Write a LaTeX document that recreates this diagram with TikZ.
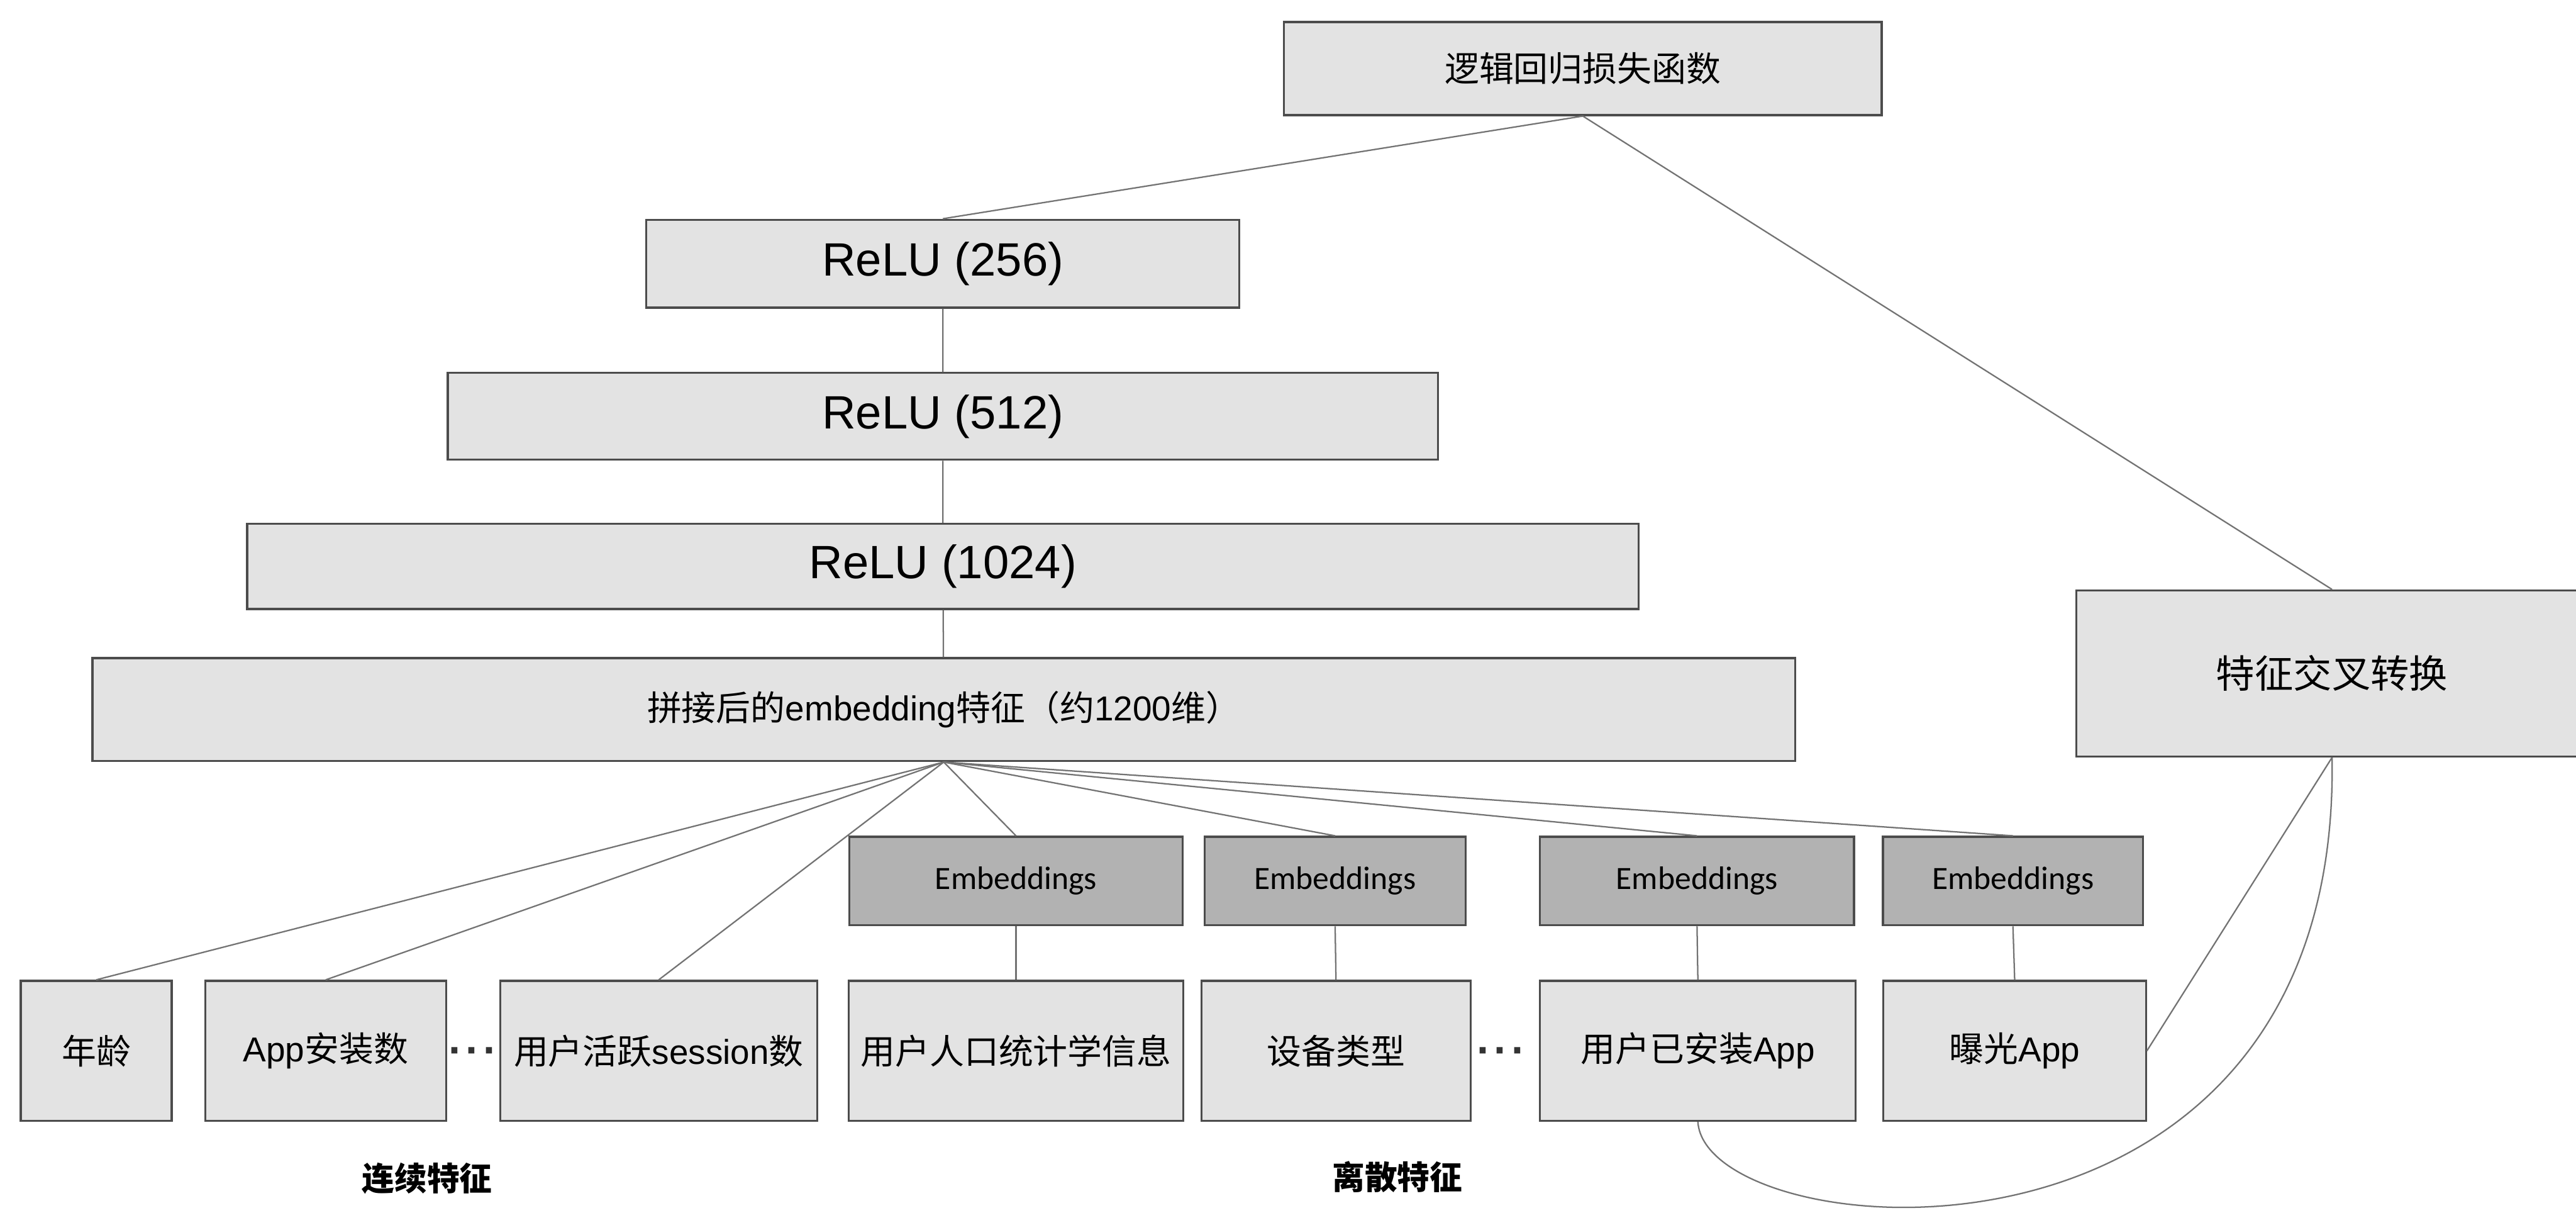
\documentclass[tikz,border=0pt]{standalone}
\usepackage{fontspec}
\setmainfont{Liberation Sans}
\newfontfamily\cjkfont{Noto Sans CJK SC}
\newfontfamily\embfont{Carlito}
\newcommand{\zh}[1]{{\cjkfont #1}}
\tikzset{
  netbox/.style={draw=black!70, fill=black!11, line width=1pt, inner sep=0pt,
    font=\fontsize{17}{20}\selectfont},
  relubox/.style={netbox, font=\fontsize{23}{27}\selectfont},
  embbox/.style={netbox, fill=black!30, minimum height=1.53cm,
    font=\embfont\fontsize{16}{19}\selectfont},
  featbox/.style={netbox, minimum height=2.42cm},
  wire/.style={draw=black!55, line width=0.7pt},
  gapdots/.style={font=\bfseries\fontsize{21}{24}\selectfont, text=black!80},
  grouplabel/.style={font=\cjkfont\bfseries\fontsize{16}{19}\selectfont}
}
\begin{document}
\begin{tikzpicture}
\useasboundingbox (0,0) rectangle (44.56,-20.97);
% tower
\node[netbox, minimum width=10.34cm, minimum height=1.61cm] (loss) at (27.38,-1.185) {\zh{逻辑回归损失函数}};
\node[relubox, minimum width=10.26cm, minimum height=1.52cm] (relu256) at (16.31,-4.56) {ReLU (256)};
\node[relubox, minimum width=17.13cm, minimum height=1.50cm] (relu512) at (16.31,-7.20) {ReLU (512)};
\node[relubox, minimum width=24.07cm, minimum height=1.47cm] (relu1024) at (16.31,-9.795) {ReLU (1024)};
\node[netbox, minimum width=29.45cm, minimum height=1.78cm] (concat) at (16.325,-12.27)
  {\zh{拼接后的}embedding\zh{特征（约}1200\zh{维）}};
\node[netbox, minimum width=8.84cm, minimum height=2.87cm, font=\fontsize{19}{23}\selectfont] (cross) at (40.34,-11.645) {\zh{特征交叉转换}};
% input features
\node[featbox, minimum width=2.61cm] (age) at (1.665,-18.17) {\zh{年龄}};
\node[featbox, minimum width=4.17cm] (appnum) at (5.635,-18.17) {App\zh{安装数}};
\node[featbox, minimum width=5.49cm] (session) at (11.395,-18.17) {\zh{用户活跃}session\zh{数}};
\node[featbox, minimum width=5.79cm] (demo) at (17.575,-18.17) {\zh{用户人口统计学信息}};
\node[featbox, minimum width=4.66cm] (device) at (23.11,-18.17) {\zh{设备类型}};
\node[featbox, minimum width=5.46cm] (installed) at (29.37,-18.17) {\zh{用户已安装}App};
\node[featbox, minimum width=4.54cm] (shown) at (34.85,-18.17) {\zh{曝光}App};
\node[gapdots] (dotsA) at (8.18,-18.26) {·\hspace{1.5pt}·\hspace{1.5pt}·};
\node[gapdots] (dotsB) at (25.97,-18.26) {·\hspace{1.5pt}·\hspace{1.5pt}·};
\node[grouplabel] (contlabel) at (7.39,-20.38) {连续特征};
\node[grouplabel] (disclabel) at (24.17,-20.35) {离散特征};
% connections
\draw[wire] (loss.south) -- (relu256.north);
\draw[wire] (loss.south) -- (cross.north);
\draw[wire] (relu256) -- (relu512) -- (relu1024) -- (concat);
\foreach \f in {age, appnum, session}
  \draw[wire] (concat.south) -- (\f.north);
\foreach \n/\x/\w/\f in {embA/17.575/5.77/demo, embB/23.095/4.51/device,
                         embC/29.355/5.43/installed, embD/34.82/4.50/shown} {
  \node[embbox, minimum width=\w cm] (\n) at (\x,-15.235) {Embeddings};
  \draw[wire] (\n.south) -- (\f.north);
  \draw[wire] (concat.south) -- (\n.north);
}
\draw[wire] (shown.east) -- (cross.south);
\draw[wire] (installed.south) .. controls (29.5,-21.6) and (40.5,-22.6) .. (cross.south);
\end{tikzpicture}
\end{document}
